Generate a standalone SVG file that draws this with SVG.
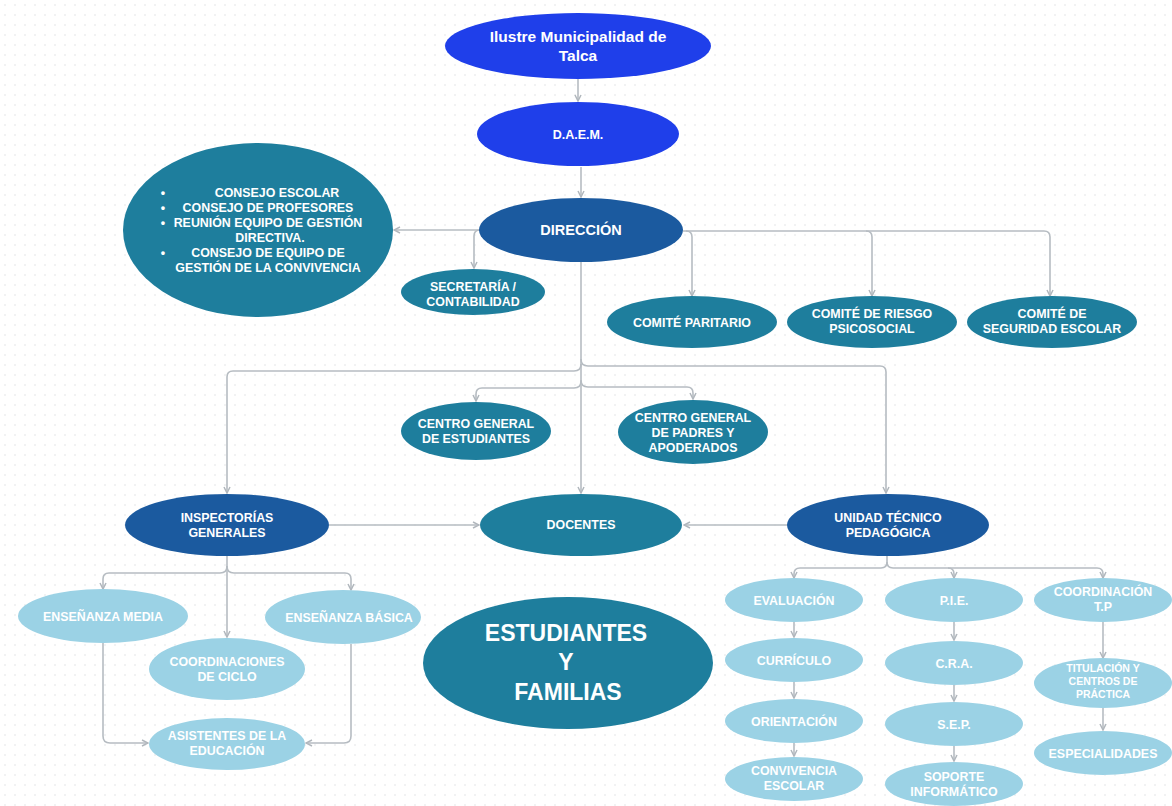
<svg xmlns="http://www.w3.org/2000/svg" width="1172" height="806" viewBox="0 0 1172 806">
<defs>
<pattern id="dots" width="10" height="10" patternUnits="userSpaceOnUse">
<circle cx="5" cy="5" r="0.7" fill="#d9dbdd"/>
</pattern>
<marker id="arr" viewBox="0 0 8 8" refX="7" refY="4" markerWidth="8" markerHeight="8" markerUnits="userSpaceOnUse" orient="auto">
<path d="M1,1 L7,4 L1,7" fill="none" stroke="#b1b7bd" stroke-width="1.5"/>
</marker>
<style>
.c{fill:none;stroke:#b6bcc2;stroke-width:1.6}
.a{marker-end:url(#arr)}
.bb{fill:#1f3fea}
.db{fill:#1b5a9f}
.tl{fill:#1e7e9d}
.lb{fill:#9bd2e5}
text{font-family:"Liberation Sans",Arial,sans-serif;font-weight:bold;fill:#ffffff;text-anchor:middle}
.t12{font-size:12.4px}
.t10{font-size:10.5px}
</style>
</defs>
<rect width="1172" height="806" fill="#ffffff"/>
<rect width="1172" height="806" fill="url(#dots)"/>

<g id="connectors">
<path class="c a" d="M578,79 V101"/>
<path class="c a" d="M581,167 V197"/>
<path class="c a" d="M480,230 H394"/>
<path class="c a" d="M480,230 Q474,230 474,236 V268"/>
<path class="c a" d="M683,231 H1044 Q1050,231 1050,237 V296"/>
<path class="c a" d="M686,231 Q692,231 692,237 V296"/>
<path class="c a" d="M866,231 Q872,231 872,237 V296"/>
<path class="c a" d="M581,262 V493"/>
<path class="c a" d="M581,364 Q581,371 574,371 H233 Q227,371 227,377 V493"/>
<path class="c a" d="M581,359 Q581,366 588,366 H880 Q886,366 886,372 V493"/>
<path class="c a" d="M581,381 Q581,388 574,388 H482 Q476,388 476,394 V401"/>
<path class="c a" d="M581,380 Q581,387 588,387 H687 Q693,387 693,393 V399"/>
<path class="c a" d="M329,525 H479"/>
<path class="c a" d="M787,525 H684"/>
<path class="c a" d="M227,556 V637"/>
<path class="c a" d="M227,566 Q227,573 220,573 H109 Q103,573 103,579 V589"/>
<path class="c a" d="M227,566 Q227,573 234,573 H345 Q351,573 351,579 V590"/>
<path class="c a" d="M103,643 V736 Q103,743 110,743 H148"/>
<path class="c a" d="M351,644 V736 Q351,743 344,743 H306"/>
<path class="c a" d="M887,556 V562 Q887,568 881,568 H800 Q794,568 794,574 V578"/>
<path class="c a" d="M887,562 Q887,568 893,568 H1097 Q1103,568 1103,574 V578"/>
<path class="c a" d="M948,568 Q954,568 954,574 V578"/>
<path class="c a" d="M794,622 V637"/>
<path class="c a" d="M794,682 V698"/>
<path class="c a" d="M794,743 V756"/>
<path class="c a" d="M954,622 V640"/>
<path class="c a" d="M954,685 V701"/>
<path class="c a" d="M954,746 V761"/>
<path class="c a" d="M1103,622 V658"/>
<path class="c a" d="M1103,708 V730"/>
</g>

<g id="municipalidad"><ellipse class="bb" cx="578" cy="46" rx="133" ry="33"/>
<text x="578" y="42" style="font-size:15.5px">Ilustre Municipalidad de</text>
<text x="578" y="61" style="font-size:15.5px">Talca</text></g>

<g id="daem"><ellipse class="bb" cx="578" cy="134" rx="101" ry="32"/>
<text x="578" y="139" style="font-size:12.5px">D.A.E.M.</text></g>

<g id="direccion"><ellipse class="db" cx="581" cy="230" rx="102" ry="32"/>
<text x="581" y="235" style="font-size:14.5px">DIRECCIÓN</text></g>

<g id="consejos"><ellipse class="tl" cx="258" cy="230" rx="135" ry="87"/>
<text class="t12" x="163" y="197">•</text>
<text class="t12" x="163" y="212">•</text>
<text class="t12" x="163" y="227">•</text>
<text class="t12" x="163" y="257">•</text>
<text class="t12" x="277" y="197">CONSEJO ESCOLAR</text>
<text class="t12" x="268" y="212">CONSEJO DE PROFESORES</text>
<text class="t12" x="268" y="227">REUNIÓN EQUIPO DE GESTIÓN</text>
<text class="t12" x="270" y="242">DIRECTIVA.</text>
<text class="t12" x="268" y="257">CONSEJO DE EQUIPO DE</text>
<text class="t12" x="268" y="272">GESTIÓN DE LA CONVIVENCIA</text></g>

<g id="secretaria"><ellipse class="tl" cx="473" cy="292" rx="72" ry="23"/>
<text class="t12" x="473" y="291">SECRETARÍA /</text>
<text class="t12" x="473" y="306">CONTABILIDAD</text></g>

<g id="comite-paritario"><ellipse class="tl" cx="692" cy="322" rx="85" ry="26"/>
<text class="t12" x="692" y="327">COMITÉ PARITARIO</text></g>

<g id="comite-riesgo"><ellipse class="tl" cx="872" cy="322" rx="85" ry="26"/>
<text class="t12" x="872" y="318">COMITÉ DE RIESGO</text>
<text class="t12" x="872" y="333">PSICOSOCIAL</text></g>

<g id="comite-seguridad"><ellipse class="tl" cx="1052" cy="322" rx="85" ry="26"/>
<text class="t12" x="1052" y="318">COMITÉ DE</text>
<text class="t12" x="1052" y="333">SEGURIDAD ESCOLAR</text></g>

<g id="centro-estudiantes"><ellipse class="tl" cx="476" cy="431" rx="75" ry="29"/>
<text class="t12" x="476" y="428">CENTRO GENERAL</text>
<text class="t12" x="476" y="443">DE ESTUDIANTES</text></g>

<g id="centro-padres"><ellipse class="tl" cx="693" cy="432" rx="75" ry="32"/>
<text class="t12" x="693" y="422">CENTRO GENERAL</text>
<text class="t12" x="693" y="437">DE PADRES Y</text>
<text class="t12" x="693" y="452">APODERADOS</text></g>

<g id="inspectorias"><ellipse class="db" cx="227" cy="525" rx="102" ry="31"/>
<text class="t12" x="227" y="522">INSPECTORÍAS</text>
<text class="t12" x="227" y="537">GENERALES</text></g>

<g id="docentes"><ellipse class="tl" cx="581" cy="525" rx="101" ry="31"/>
<text class="t12" x="581" y="529">DOCENTES</text></g>

<g id="utp"><ellipse class="db" cx="888" cy="525" rx="101" ry="31"/>
<text class="t12" x="888" y="522">UNIDAD TÉCNICO</text>
<text class="t12" x="888" y="537">PEDAGÓGICA</text></g>

<g id="ensenanza-media"><ellipse class="lb" cx="103" cy="616" rx="85" ry="27"/>
<text class="t12" x="103" y="621">ENSEÑANZA MEDIA</text></g>

<g id="ensenanza-basica"><ellipse class="lb" cx="343" cy="617" rx="78" ry="27"/>
<text class="t12" x="349" y="622">ENSEÑANZA BÁSICA</text></g>

<g id="coordinaciones-ciclo"><ellipse class="lb" cx="227" cy="669" rx="78" ry="31"/>
<text class="t12" x="227" y="666">COORDINACIONES</text>
<text class="t12" x="227" y="681">DE CICLO</text></g>

<g id="asistentes"><ellipse class="lb" cx="227" cy="744" rx="78" ry="26"/>
<text class="t12" x="227" y="740">ASISTENTES DE LA</text>
<text class="t12" x="227" y="755">EDUCACIÓN</text></g>

<g id="estudiantes-familias"><ellipse class="tl" cx="568" cy="663" rx="145" ry="66"/>
<text x="566" y="641" style="font-size:23px">ESTUDIANTES</text>
<text x="566" y="670" style="font-size:23px">Y</text>
<text x="568" y="700" style="font-size:23px">FAMILIAS</text></g>

<g id="evaluacion"><ellipse class="lb" cx="794" cy="600" rx="69" ry="22"/>
<text class="t12" x="794" y="605">EVALUACIÓN</text></g>
<g id="curriculo"><ellipse class="lb" cx="794" cy="660" rx="69" ry="22"/>
<text class="t12" x="794" y="665">CURRÍCULO</text></g>
<g id="orientacion"><ellipse class="lb" cx="794" cy="721" rx="69" ry="22"/>
<text class="t12" x="794" y="726">ORIENTACIÓN</text></g>
<g id="convivencia"><ellipse class="lb" cx="794" cy="779" rx="69" ry="22"/>
<text class="t12" x="794" y="775">CONVIVENCIA</text>
<text class="t12" x="794" y="790">ESCOLAR</text></g>

<g id="pie"><ellipse class="lb" cx="954" cy="600" rx="69" ry="22"/>
<text class="t12" x="954" y="605">P.I.E.</text></g>
<g id="cra"><ellipse class="lb" cx="954" cy="663" rx="69" ry="22"/>
<text class="t12" x="954" y="668">C.R.A.</text></g>
<g id="sep"><ellipse class="lb" cx="954" cy="724" rx="69" ry="22"/>
<text class="t12" x="954" y="729">S.E.P.</text></g>
<g id="soporte"><ellipse class="lb" cx="954" cy="784" rx="69" ry="22"/>
<text class="t12" x="954" y="781">SOPORTE</text>
<text class="t12" x="954" y="796">INFORMÁTICO</text></g>

<g id="coordinacion-tp"><ellipse class="lb" cx="1103" cy="600" rx="69" ry="22"/>
<text class="t12" x="1103" y="596">COORDINACIÓN</text>
<text class="t12" x="1103" y="611">T.P</text></g>
<g id="titulacion"><ellipse class="lb" cx="1103" cy="683" rx="69" ry="25"/>
<text class="t10" x="1103" y="672">TITULACIÓN Y</text>
<text class="t10" x="1103" y="685">CENTROS DE</text>
<text class="t10" x="1103" y="698">PRÁCTICA</text></g>
<g id="especialidades"><ellipse class="lb" cx="1103" cy="753" rx="69" ry="22"/>
<text class="t12" x="1103" y="758">ESPECIALIDADES</text></g>
</svg>
